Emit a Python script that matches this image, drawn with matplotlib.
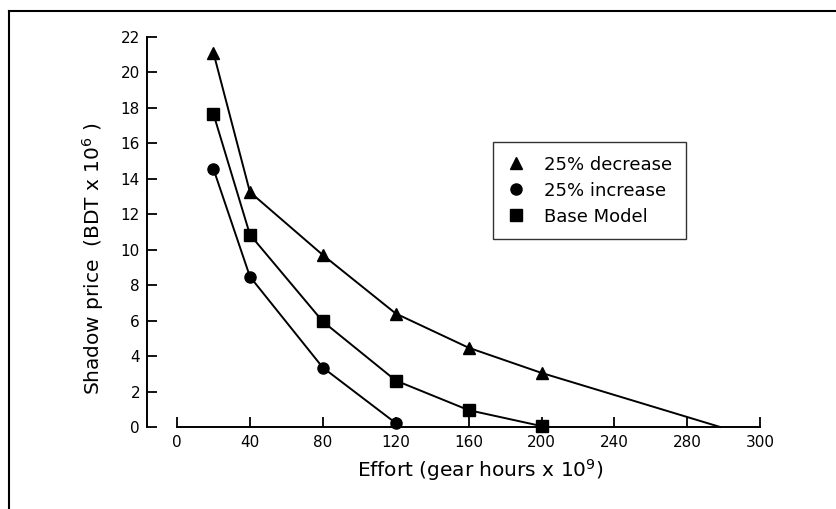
import matplotlib
matplotlib.use("Agg")
import matplotlib.pyplot as plt
from matplotlib.lines import Line2D

# Data
effort = [20, 40, 80, 120, 160, 200]
decrease = [21.1, 13.25, 9.7, 6.4, 4.47, 3.05]
decrease_end_x = 298      # line continues (no marker) down to zero
decrease_end_y = 0.0
base_model = [17.65, 10.85, 5.95, 2.62, 0.95, 0.05]
increase_effort = [20, 40, 80, 120]
increase = [14.55, 8.48, 3.35, 0.22]

xtick_pos = [0, 40, 80, 120, 160, 200, 240, 280, 320]
xtick_labels = ["0", "40", "80", "120", "160", "200", "240", "280", "300"]
ytick_vals = list(range(0, 23, 2))

plt.rcParams['font.family'] = ['DejaVu Sans']
plt.rcParams['mathtext.default'] = 'regular'

fig = plt.figure(figsize=(8.36, 5.09), dpi=100)
W, H = 836, 509
L, R, T, B = 140.6, 778.4, 28.1, 444.7
ax = fig.add_axes([L / W, (H - B) / H, (R - L) / W, (B - T) / H])
ax.set_xlim(-20, 330)
ax.set_ylim(-1, 22.5)

lw = 1.4
ms = 8
# lines
ax.plot(effort + [decrease_end_x], decrease + [decrease_end_y], color='black', lw=lw, clip_on=False)
ax.plot(effort, base_model, color='black', lw=lw, clip_on=False)
ax.plot(increase_effort, increase, color='black', lw=lw, clip_on=False)
# markers
ax.plot(effort, decrease, linestyle='none', marker='^', ms=ms + 1, color='black',
        label='25% decrease', clip_on=False)
ax.plot(increase_effort, increase, linestyle='none', marker='o', ms=ms, color='black',
        label='25% increase', clip_on=False)
ax.plot(effort, base_model, linestyle='none', marker='s', ms=ms, color='black',
        label='Base Model', clip_on=False)

# axes styling
for s in ['top', 'right']:
    ax.spines[s].set_visible(False)
ax.spines['left'].set_position(('data', -16.5))
ax.spines['left'].set_bounds(0, 22)
ax.spines['bottom'].set_position(('data', 0))
ax.spines['bottom'].set_bounds(0, 320)
for s in ['left', 'bottom']:
    ax.spines[s].set_linewidth(1.4)

ax.set_xticks(xtick_pos)
ax.set_xticklabels(xtick_labels)
ax.set_yticks(ytick_vals)
ax.set_yticklabels([str(v) for v in ytick_vals])
ax.tick_params(axis='x', direction='in', length=7, width=1.3, pad=6, labelsize=11)
ax.tick_params(axis='y', direction='in', length=7, width=1.3, pad=5, labelsize=11)

ax.set_xlabel('Effort (gear hours x 10$^9$)', fontsize=14.5)
ax.xaxis.set_label_coords((480 - L) / (R - L), 1 - (470 - T) / (B - T))
ax.xaxis.label.set_va('center')
ax.set_ylabel('Shadow price  (BDT x 10$^6$ )', fontsize=14.5)
ax.yaxis.set_label_coords((93 - L) / (R - L), 1 - (259 - T) / (B - T))
ax.yaxis.label.set_va('center')

leg = ax.legend(loc='upper left',
                bbox_to_anchor=((493 - L) / (R - L), 1 - (142 - T) / (B - T)),
                borderaxespad=0, fancybox=False, frameon=True, fontsize=13,
                handlelength=1.0, handletextpad=1.1, borderpad=0.75,
                labelspacing=0.45)
leg.get_frame().set_edgecolor('black')
leg.get_frame().set_linewidth(1.0)

# figure frame (left and top edges visible)
fig.add_artist(Line2D([9 / W, 9 / W], [0, 1 - 11 / H], transform=fig.transFigure,
                      color='black', lw=1.5))
fig.add_artist(Line2D([9 / W, 1], [1 - 11 / H, 1 - 11 / H], transform=fig.transFigure,
                      color='black', lw=1.5))

fig.savefig('out.png', dpi=100)
